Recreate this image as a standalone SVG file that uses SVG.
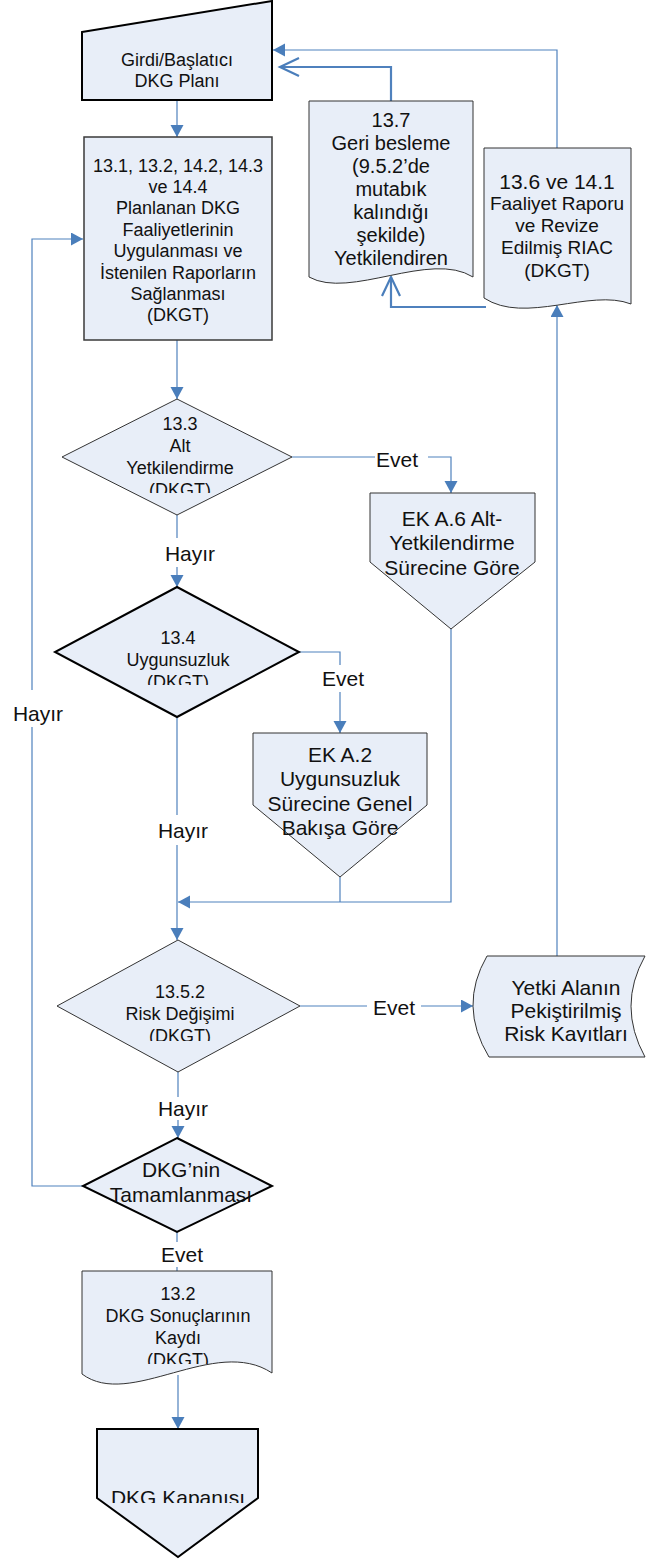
<svg xmlns="http://www.w3.org/2000/svg" width="659" height="1559" viewBox="0 0 659 1559">
<style>
.sh{fill:#E8EEF8;stroke:#333;stroke-width:1}
.thick{fill:#E8EEF8;stroke:#000;stroke-width:2}
.rect{fill:#E8EEF8;stroke:#3a3a3a;stroke-width:1.5}
text{font-family:"Liberation Sans",Arial,sans-serif;fill:#111;text-anchor:middle}
.t18{font-size:18px}.t19{font-size:19px}.t20{font-size:20px}.t21{font-size:21px}
.c{fill:none;stroke:#4F81BD;stroke-width:1.2}
.cb{fill:none;stroke:#4F81BD;stroke-width:2.2}
</style>
<defs>
<marker id="a" markerUnits="userSpaceOnUse" markerWidth="14" markerHeight="14" refX="12" refY="6.5" orient="auto"><path d="M0,0 L12,6.5 L0,13 z" fill="#4A7EBB"/></marker>
<marker id="o" markerUnits="userSpaceOnUse" markerWidth="24" markerHeight="22" refX="20" refY="10" orient="auto"><path d="M1,1 L20,10 L1,19" fill="none" stroke="#4A7EBB" stroke-width="2.2"/></marker>
<clipPath id="k1"><rect x="0" y="0" width="659" height="493"/></clipPath>
<clipPath id="k2"><rect x="0" y="0" width="659" height="685"/></clipPath>
<clipPath id="k3"><rect x="0" y="0" width="659" height="1041"/></clipPath>
<clipPath id="k4"><rect x="0" y="0" width="659" height="1042"/></clipPath>
<clipPath id="k5"><rect x="0" y="0" width="659" height="1364"/></clipPath>
<clipPath id="k6"><rect x="0" y="0" width="659" height="1503"/></clipPath>
</defs>

<g id="connectors">
<path class="c" d="M177,100 V137" marker-end="url(#a)"/>
<path class="c" d="M177,340 V399" marker-end="url(#a)"/>
<path class="c" d="M292,457 H375"/>
<path class="c" d="M428,457 H451 V493" marker-end="url(#a)"/>
<path class="c" d="M177,515 V538"/>
<path class="c" d="M177,567 V587" marker-end="url(#a)"/>
<path class="c" d="M299,652 H340 V665"/>
<path class="c" d="M340,692 V733" marker-end="url(#a)"/>
<path class="c" d="M177,717 V815"/>
<path class="c" d="M177,845 V940" marker-end="url(#a)"/>
<path class="c" d="M451,629 V902 H178" marker-end="url(#a)"/>
<path class="c" d="M340,877 V902"/>
<path class="c" d="M300,1006 H367"/>
<path class="c" d="M421,1006 H473" marker-end="url(#a)"/>
<path class="c" d="M557,956 V305" marker-end="url(#a)"/>
<path class="c" d="M557,148 V50 H273" marker-end="url(#a)"/>
<path class="cb" d="M391,101 V67 H280" marker-end="url(#o)"/>
<path class="cb" d="M486,307 H391 V277" marker-end="url(#o)"/>
<path class="c" d="M178,1072 V1097"/>
<path class="c" d="M178,1120 V1138" marker-end="url(#a)"/>
<path class="c" d="M83,1186 H32 V727"/>
<path class="c" d="M32,690 V239 H83" marker-end="url(#a)"/>
<path class="c" d="M177,1232 V1242"/>
<path class="c" d="M177,1267 V1271"/>
<path class="c" d="M178,1375 V1429" marker-end="url(#a)"/>
<text class="t21" x="397" y="466.5">Evet</text>
<text class="t21" x="190" y="560.5">Hayır</text>
<text class="t21" x="343" y="685.5">Evet</text>
<text class="t21" x="183" y="837.5">Hayır</text>
<text class="t21" x="38" y="720.5">Hayır</text>
<text class="t21" x="394" y="1014.5">Evet</text>
<text class="t21" x="183" y="1115.5">Hayır</text>
<text class="t21" x="182" y="1261.5">Evet</text>
</g>

<g id="n-input">
<path class="thick" d="M82,32 L272,1 L272,100 L82,100 Z"/>
<text class="t18" x="177" y="65.5">Girdi/Başlatıcı</text>
<text class="t18" x="177" y="86.5">DKG Planı</text>
</g>

<g id="n-uygulama">
<rect class="rect" x="84" y="137" width="188" height="203"/>
<text class="t18" x="178" y="171.5">13.1, 13.2, 14.2, 14.3</text>
<text class="t18" x="178" y="192.9">ve 14.4</text>
<text class="t18" x="178" y="214.3">Planlanan DKG</text>
<text class="t18" x="178" y="235.7">Faaliyetlerinin</text>
<text class="t18" x="178" y="257.1">Uygulanması ve</text>
<text class="t18" x="178" y="278.5">İstenilen Raporların</text>
<text class="t18" x="178" y="299.9">Sağlanması</text>
<text class="t18" x="178" y="321.3">(DKGT)</text>
</g>

<g id="n-geribesleme">
<path class="sh" d="M309,101 H473 V277 C430,250 350,300 309,277 Z"/>
<text class="t20" x="391" y="127">13.7</text>
<text class="t20" x="391" y="150">Geri besleme</text>
<text class="t20" x="391" y="173">(9.5.2’de</text>
<text class="t20" x="391" y="196">mutabık</text>
<text class="t20" x="391" y="219">kalındığı</text>
<text class="t20" x="391" y="242">şekilde)</text>
<text class="t20" x="391" y="265">Yetkilendiren</text>
</g>

<g id="n-rapor">
<path class="sh" d="M484,148 H631 V304 C590,288 525,325 484,298 Z"/>
<text class="t21" x="557" y="188.5">13.6 ve 14.1</text>
<text class="t19" x="557" y="210">Faaliyet Raporu</text>
<text class="t19" x="557" y="232">ve Revize</text>
<text class="t19" x="557" y="254">Edilmiş RIAC</text>
<text class="t19" x="557" y="277">(DKGT)</text>
</g>

<g id="n-alt">
<path class="sh" d="M177,399 L292,457 L177,515 L62,457 Z"/>
<text class="t18" x="180" y="429.5">13.3</text>
<text class="t18" x="180" y="451.5">Alt</text>
<text class="t18" x="180" y="473.5">Yetkilendirme</text>
<text class="t18" x="180" y="495.5" clip-path="url(#k1)">(DKGT)</text>
</g>

<g id="n-eka6">
<path class="sh" d="M370,493 H535 V562 L451,629 L370,562 Z"/>
<text class="t21" x="452" y="525.5">EK A.6 Alt-</text>
<text class="t21" x="452" y="549.5">Yetkilendirme</text>
<text class="t21" x="452" y="574.5">Sürecine Göre</text>
</g>

<g id="n-uygunsuzluk">
<path class="thick" d="M177,587 L299,652 L177,717 L55,652 Z"/>
<text class="t18" x="178" y="643.5">13.4</text>
<text class="t18" x="178" y="665.5">Uygunsuzluk</text>
<text class="t18" x="178" y="687.5" clip-path="url(#k2)">(DKGT)</text>
</g>

<g id="n-eka2">
<path class="sh" d="M253,733 H427 V805 L340,877 L253,805 Z"/>
<text class="t21" x="340" y="761.5">EK A.2</text>
<text class="t21" x="340" y="786">Uygunsuzluk</text>
<text class="t21" x="340" y="810.5">Sürecine Genel</text>
<text class="t21" x="340" y="835">Bakışa Göre</text>
</g>

<g id="n-risk">
<path class="sh" d="M178,940 L300,1006 L178,1072 L57,1006 Z"/>
<text class="t18" x="180" y="998">13.5.2</text>
<text class="t18" x="180" y="1020">Risk Değişimi</text>
<text class="t18" x="180" y="1041.5" clip-path="url(#k3)">(DKGT)</text>
</g>

<g id="n-kayit">
<path class="sh" d="M487,956 H645 Q617,1006 645,1057 H489 Q458,1006 487,956 Z"/>
<text class="t21" x="566" y="994.5">Yetki Alanın</text>
<text class="t21" x="566" y="1017.5">Pekiştirilmiş</text>
<text class="t21" x="566" y="1040.5" clip-path="url(#k4)">Risk Kayıtları</text>
</g>

<g id="n-tamam">
<path class="thick" d="M177,1138 L272,1186 L177,1232 L83,1186 Z"/>
<text class="t21" x="181" y="1176.5">DKG’nin</text>
<text class="t21" x="181" y="1201.5">Tamamlanması</text>
</g>

<g id="n-sonuc">
<path class="sh" d="M82,1271 H272 V1373 C215,1335 130,1410 82,1374 Z"/>
<text class="t18" x="178" y="1299.5">13.2</text>
<text class="t18" x="178" y="1321.5">DKG Sonuçlarının</text>
<text class="t18" x="178" y="1343.5">Kaydı</text>
<text class="t18" x="178" y="1365.5" clip-path="url(#k5)">(DKGT)</text>
</g>

<g id="n-kapanis">
<path class="thick" d="M97,1429 H258 V1498 L178,1557 L97,1498 Z"/>
<text class="t21" x="178" y="1504.5" clip-path="url(#k6)">DKG Kapanışı</text>
</g>
</svg>
